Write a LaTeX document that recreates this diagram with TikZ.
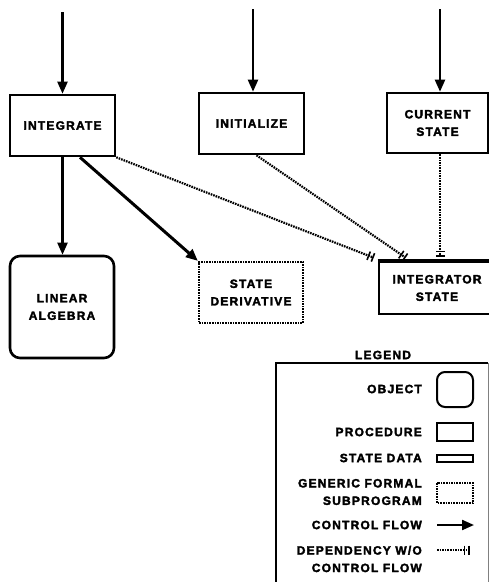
\documentclass[tikz,border=0pt]{standalone}
\usepackage{fontspec}
\setmainfont{Liberation Sans}[LetterSpace=10, BoldFeatures={FakeBold=2.5}]
\usetikzlibrary{arrows.meta,calc}
\begin{document}
\begin{tikzpicture}[x=1pt,y=-1pt,
  lbl/.style={font=\bfseries\fontsize{12}{17.5}\selectfont, align=center, inner sep=0pt},
  proc/.style={lbl, draw, line width=2.6pt, minimum width=105pt, minimum height=61pt},
  obj/.style={proc, rounded corners=10pt},
  dotbox/.style={dash pattern=on 1.6pt off 1pt},
  gen/.style={proc, dotbox, line width=2.2pt},
  ctrl/.style={line width=2.2pt, -{Triangle[length=12pt,width=10pt]}},
  dep/.style={line width=2.2pt, dotbox, -{Bar[width=9pt,line width=1.6pt,sep=3pt] Bar[width=9pt,line width=1.6pt]}},
  leg/.style={lbl, anchor=east, align=right}]
\useasboundingbox (0,0) rectangle (489,582);
\clip (0,0) rectangle (489,582);
% nodes
\node[proc] (integrate) at (62.5,125.5) {INTEGRATE};
\node[proc] (initialize) at (251.5,123.5) {INITIALIZE};
\node[proc, minimum width=101pt, minimum height=60pt] (current) at (437.5,123) {CURRENT\\STATE};
\node[obj, minimum width=104pt, minimum height=102pt] (linear) at (62,307) {LINEAR\\ALGEBRA};
\node[gen, minimum width=104pt] (deriv) at (251,292.5) {STATE\\DERIVATIVE};
\node[proc, minimum width=116pt, minimum height=52pt] (intstate) at (437,288) {INTEGRATOR\\STATE};
\draw[line width=3.4pt] (intstate.north west) -- (intstate.north east);
% incoming control flows
\coordinate (s1) at (62.5,12);
\coordinate (s2) at (253,9);
\coordinate (s3) at (440,9);
\draw[ctrl] (s1) -- (s1 |- integrate.north);
\draw[ctrl] (s2) -- (s2 |- initialize.north);
\draw[ctrl] (s3) -- (s3 |- current.north);
% control flows
\draw[ctrl] (integrate.south) -- (integrate.south |- linear.north);
\draw[ctrl, line width=3pt] ($(integrate.south)+(17.5,0)$) -- (deriv.north west);
% dependencies
\draw[dep] (integrate.south east) -- ($(intstate.north west)+(-4,-3)$);
\draw[dep] ($(initialize.south)+(5,0)$) -- ($(intstate.north west)+(28,-3)$);
\draw[dep] ($(current.south)+(2.5,0)$) -- ($(intstate.north)+(3,-4)$);
% legend
\node[lbl] (legtitle) at (383,355) {LEGEND};
\draw[line width=2.4pt] (276,600) |- (488,363);
\draw[line width=0.4pt, gray] (488,363) -- (488,600);
\node[leg] (lobj) at (422,389) {OBJECT};
\node[leg] (lproc) at (422,432) {PROCEDURE};
\node[leg] (lstate) at (422,458) {STATE DATA};
\node[leg] (lgen) at (422,492) {GENERIC FORMAL\\SUBPROGRAM};
\node[leg] (lctrl) at (422,525) {CONTROL FLOW};
\node[leg] (ldep) at (422,559) {DEPENDENCY W/O\\CONTROL FLOW};
\draw[line width=2pt, rounded corners=8pt] (437,372) rectangle (473,407);
\draw[line width=2pt] (437,423) rectangle (473,441);
\draw[line width=2pt] (437,455) rectangle (473,462);
\draw[line width=1.8pt, dotbox] (437,483) rectangle (473,503);
\coordinate (c1) at (437,525); \coordinate (c2) at (474,525);
\draw[ctrl] (c1) -- (c2);
\coordinate (d1) at (437,550); \coordinate (d2) at (470,550);
\draw[dep, line width=1.6pt] (d1) -- (d2);
\end{tikzpicture}
\end{document}
